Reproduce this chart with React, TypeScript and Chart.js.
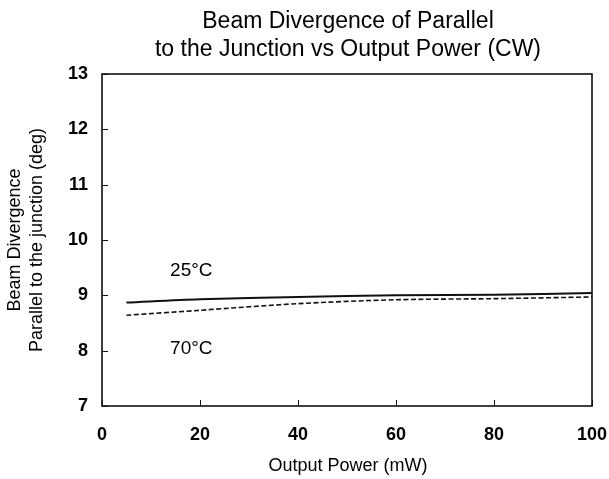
import React, { useEffect, useRef } from "react";
import { Chart, registerables } from "chart.js";

Chart.register(...registerables);

const powerMW = [5, 20, 40, 60, 80, 100];
const div25 = [8.87, 8.93, 8.97, 9.0, 9.01, 9.04];
const div70 = [8.64, 8.73, 8.85, 8.92, 8.94, 8.97];
const xTicks = [0, 20, 40, 60, 80, 100];
const yTicks = [7, 8, 9, 10, 11, 12, 13];
const titleLines = ["Beam Divergence of Parallel", "to the Junction vs Output Power (CW)"];
const xTitle = "Output Power (mW)";
const yTitleLines = ["Beam Divergence", "Parallel to the junction (deg)"];
const labelTexts = ["25\u00B0C", "70\u00B0C"];
const labelX = [13.9, 13.9];
const labelY = [9.44, 8.03];

const FONT = "Arial, 'Liberation Sans', sans-serif";

const decorPlugin = {
  id: "decor",
  afterDraw(chart: any) {
    const ctx = chart.ctx;
    const a = chart.chartArea;
    const xs = chart.scales.x;
    const ys = chart.scales.y;
    ctx.save();
    // frame
    ctx.strokeStyle = "#111";
    ctx.lineWidth = 1.6;
    ctx.strokeRect(a.left, a.top, a.right - a.left, a.bottom - a.top);
    // inward ticks
    ctx.lineWidth = 1;
    ctx.beginPath();
    yTicks.forEach((v) => {
      const y = Math.round(ys.getPixelForValue(v)) + 0.5;
      ctx.moveTo(a.left, y);
      ctx.lineTo(a.left + 6, y);
    });
    xTicks.forEach((v) => {
      const x = Math.round(xs.getPixelForValue(v)) + 0.5;
      ctx.moveTo(x, a.bottom);
      ctx.lineTo(x, a.bottom - 6);
    });
    ctx.stroke();
    // title
    ctx.fillStyle = "#000";
    ctx.textAlign = "center";
    ctx.textBaseline = "alphabetic";
    ctx.font = `23px ${FONT}`;
    const cx = 348;
    ctx.fillText(titleLines[0], cx, 28);
    ctx.fillText(titleLines[1], cx, 56);
    // x title
    ctx.textBaseline = "middle";
    ctx.font = `18px ${FONT}`;
    ctx.fillText(xTitle, cx, 466);
    // y titles
    const cy = (a.top + a.bottom) / 2;
    ctx.save();
    ctx.translate(15, cy);
    ctx.rotate(-Math.PI / 2);
    ctx.fillText(yTitleLines[0], 0, 0);
    ctx.restore();
    ctx.save();
    ctx.translate(37, cy);
    ctx.rotate(-Math.PI / 2);
    ctx.fillText(yTitleLines[1], 0, 0);
    ctx.restore();
    // annotations
    ctx.textAlign = "left";
    ctx.font = `19px ${FONT}`;
    labelTexts.forEach((t, i) => {
      ctx.fillText(t, xs.getPixelForValue(labelX[i]), ys.getPixelForValue(labelY[i]));
    });
    ctx.restore();
  },
};

export default function App() {
  const ref = useRef<HTMLCanvasElement>(null);
  useEffect(() => {
    if (!ref.current) return;
    const chart = new Chart(ref.current, {
      type: "line",
      data: {
        datasets: [
          {
            label: "25C",
            data: powerMW.map((x, i) => ({ x, y: div25[i] })),
            borderColor: "#111",
            borderWidth: 2,
            pointRadius: 0,
            tension: 0.3,
            fill: false,
          },
          {
            label: "70C",
            data: powerMW.map((x, i) => ({ x, y: div70[i] })),
            borderColor: "#111",
            borderWidth: 1.6,
            borderDash: [5, 2.5],
            pointRadius: 0,
            tension: 0.3,
            fill: false,
          },
        ],
      },
      options: {
        animation: false,
        responsive: false,
        maintainAspectRatio: false,
        layout: { padding: { top: 74, right: 17, left: 0, bottom: 0 } },
        plugins: { legend: { display: false }, title: { display: false }, tooltip: { enabled: false } },
        scales: {
          x: {
            type: "linear",
            min: 0,
            max: 100,
            border: { display: false },
            grid: { display: false, drawTicks: false },
            ticks: {
              stepSize: 20,
              padding: 18,
              color: "#000",
              font: { family: FONT, size: 18, weight: "bold" },
              maxRotation: 0,
            },
            afterFit(scale: any) {
              scale.height = 73;
              scale.paddingLeft = 0;
              scale.paddingRight = 0;
            },
          },
          y: {
            min: 7,
            max: 13,
            border: { display: false },
            grid: { display: false, drawTicks: false },
            ticks: {
              stepSize: 1,
              padding: 14,
              color: "#000",
              font: { family: FONT, size: 18, weight: "bold" },
            },
            afterFit(scale: any) {
              scale.width = 102;
              scale.paddingTop = 0;
              scale.paddingBottom = 0;
            },
          },
        },
      },
      plugins: [decorPlugin],
    } as any);
    return () => chart.destroy();
  }, []);
  return (
    <div style={{ position: "absolute", left: 0, top: 0, width: 609, height: 479, background: "#fff" }}>
      <canvas ref={ref} width={609} height={479} style={{ display: "block" }} />
    </div>
  );
}
